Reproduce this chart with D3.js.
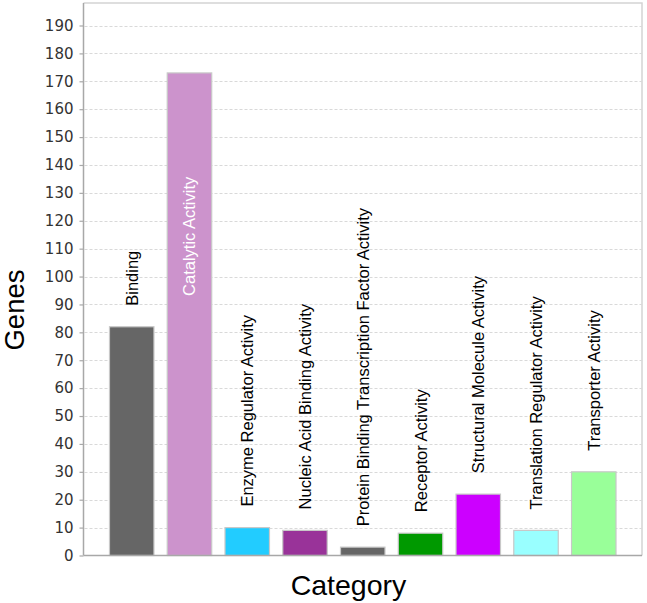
<!DOCTYPE html>
<html>
<head>
<meta charset="utf-8">
<script src="https://cdn.jsdelivr.net/npm/d3@7"></script>
<style>
  html, body { margin: 0; padding: 0; background: #fff; }
  svg { display: block; }
</style>
</head>
<body>
<svg id="chart" width="647" height="603"></svg>
<script>
// ---- data ----
const categories = [
  "Binding",
  "Catalytic Activity",
  "Enzyme Regulator Activity",
  "Nucleic Acid Binding Activity",
  "Protein Binding Transcription Factor Activity",
  "Receptor Activity",
  "Structural Molecule Activity",
  "Translation Regulator Activity",
  "Transporter Activity"
];
const genes = [82, 173, 10, 9, 3, 8, 22, 9, 30];
const barColors = ["#666666", "#cc93cc", "#22ccff", "#993399", "#666666", "#009900", "#cc00ff", "#99ffff", "#99ff99"];
const yTicks = [0, 10, 20, 30, 40, 50, 60, 70, 80, 90, 100, 110, 120, 130, 140, 150, 160, 170, 180, 190];
const yTitle = "Genes";
const xTitle = "Category";

// ---- layout ----
const svg = d3.select("#chart");
const plot = { left: 83.5, right: 642, top: 3, bottom: 555.5 };

const x = d3.scaleBand()
  .domain(categories)
  .range([plot.left, plot.right])
  .paddingInner(0.23)
  .paddingOuter(0.45);

const y = d3.scaleLinear()
  .domain([0, 190])
  .range([plot.bottom, 25.5]);

// frame (top/right)
svg.append("path")
  .attr("d", `M${plot.left},${plot.top}H${plot.right}V${plot.bottom}`)
  .attr("fill", "none")
  .attr("stroke", "#d4d4d4")
  .attr("stroke-width", 1.5);

// gridlines
svg.append("g")
  .selectAll("line")
  .data(yTicks.filter(d => d > 0))
  .join("line")
  .attr("x1", plot.left + 1)
  .attr("x2", plot.right)
  .attr("y1", d => Math.round(y(d)) + 0.5)
  .attr("y2", d => Math.round(y(d)) + 0.5)
  .attr("stroke", "#d9d9d9")
  .attr("stroke-dasharray", "3,2");

// bars
svg.append("g")
  .selectAll("rect")
  .data(categories)
  .join("rect")
  .attr("x", d => x(d))
  .attr("width", x.bandwidth())
  .attr("y", (d, i) => y(genes[i]))
  .attr("height", (d, i) => plot.bottom - y(genes[i]))
  .attr("fill", (d, i) => barColors[i])
  .attr("stroke", "#c8c8c8")
  .attr("stroke-width", 1.2);

// y axis
const yAxis = d3.axisLeft(y)
  .tickValues(yTicks)
  .tickSize(4)
  .tickPadding(6)
  .tickFormat(d3.format("d"));
const yg = svg.append("g")
  .attr("transform", `translate(${plot.left},0)`)
  .call(yAxis);
yg.select(".domain").attr("stroke", "#a8a8a8").attr("stroke-width", 1.5)
  .attr("d", `M0,${plot.top}V${plot.bottom}`);
yg.selectAll(".tick line").attr("stroke", "#a8a8a8").attr("stroke-width", 1.2);
yg.selectAll(".tick text")
  .attr("fill", "#333")
  .style("font-family", "'DejaVu Sans', sans-serif")
  .style("font-size", "15px");

// x axis baseline
const xg = svg.append("g")
  .attr("transform", `translate(0,${plot.bottom})`)
  .call(d3.axisBottom(x).tickSize(0).tickFormat(""));
xg.select(".domain").attr("stroke", "#a8a8a8").attr("stroke-width", 1.5)
  .attr("d", `M${plot.left},0H${plot.right}`);

// item labels (rotated)
const labelFont = "'Liberation Sans', Arial, sans-serif";
const labelSize = 16.5;
const gap = 21;
svg.append("g")
  .selectAll("text")
  .data(categories)
  .join("text")
  .each(function (d, i) {
    const t = d3.select(this)
      .text(d)
      .style("font-family", labelFont)
      .style("font-size", labelSize + "px");
    const len = this.getComputedTextLength();
    const cx = x(d) + x.bandwidth() / 2;
    let startY = y(genes[i]) - gap;
    let fill = "#000";
    if (startY - len < plot.top + 4) {
      // does not fit above: place inside the bar
      startY = y(genes[i]) + 223;
      fill = "#fff";
    }
    t.attr("transform", `translate(${cx + 6},${startY}) rotate(-90)`)
      .attr("fill", fill);
  });

// axis titles
svg.append("text")
  .attr("transform", `translate(24,310) rotate(-90)`)
  .attr("text-anchor", "middle")
  .style("font-family", labelFont)
  .style("font-size", "27.5px")
  .attr("fill", "#000")
  .text(yTitle);

svg.append("text")
  .attr("x", 348.5)
  .attr("y", 595)
  .attr("text-anchor", "middle")
  .style("font-family", labelFont)
  .style("font-size", "28.5px")
  .attr("fill", "#000")
  .text(xTitle);
</script>
</body>
</html>
